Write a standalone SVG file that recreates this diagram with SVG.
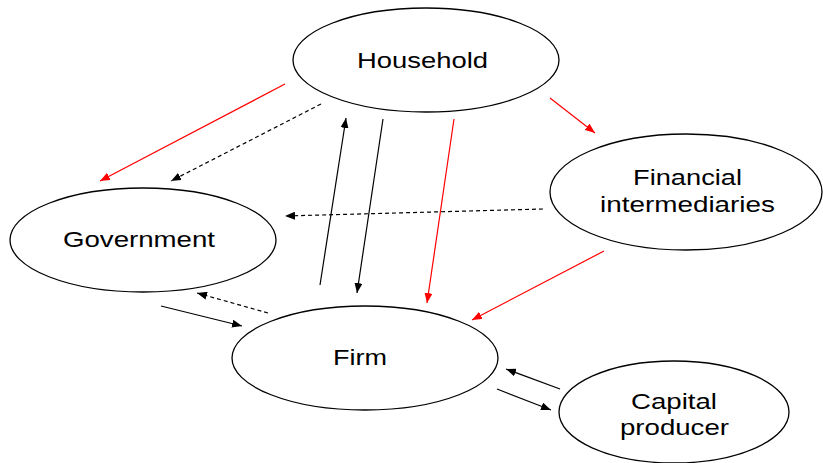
<svg xmlns="http://www.w3.org/2000/svg" width="823" height="463" viewBox="0 0 823 463">
<style>
.node ellipse{fill:#fff;stroke:#000;stroke-width:1.3}
.node text{font-family:"Liberation Sans",Arial,sans-serif;font-size:22px;fill:#000;text-anchor:middle}
.blk{stroke:#000;stroke-width:1.2;fill:none;marker-end:url(#ab)}
.red{stroke:#f00;stroke-width:1.2;fill:none;marker-end:url(#ar)}
.dash{stroke:#000;stroke-width:1.2;fill:none;stroke-dasharray:4 3;marker-end:url(#ab)}
</style>
<defs>
<marker id="ab" viewBox="0 0 10 8" refX="10" refY="4" markerWidth="10" markerHeight="8" markerUnits="userSpaceOnUse" orient="auto"><path d="M0,0L10,4L0,8z" fill="#000"/></marker>
<marker id="ar" viewBox="0 0 10 8" refX="10" refY="4" markerWidth="10" markerHeight="8" markerUnits="userSpaceOnUse" orient="auto"><path d="M0,0L10,4L0,8z" fill="#f00"/></marker>
</defs>
<rect width="823" height="463" fill="#fff"/>
<g id="household" class="node"><ellipse cx="426" cy="60" rx="133" ry="52"/><text x="422.5" y="68" textLength="131" lengthAdjust="spacingAndGlyphs">Household</text></g>
<g id="financial" class="node"><ellipse cx="686" cy="192" rx="136" ry="58"/><text x="687.5" y="185" textLength="109" lengthAdjust="spacingAndGlyphs">Financial</text><text x="687.5" y="212" textLength="175" lengthAdjust="spacingAndGlyphs">intermediaries</text></g>
<g id="government" class="node"><ellipse cx="143" cy="240" rx="133" ry="52"/><text x="139" y="247" textLength="152" lengthAdjust="spacingAndGlyphs">Government</text></g>
<g id="firm" class="node"><ellipse cx="365" cy="358" rx="133" ry="52"/><text x="360" y="365" textLength="54" lengthAdjust="spacingAndGlyphs">Firm</text></g>
<g id="capital" class="node"><ellipse cx="674" cy="412" rx="115" ry="51"/><text x="674" y="409" textLength="86" lengthAdjust="spacingAndGlyphs">Capital</text><text x="674.5" y="435" textLength="109" lengthAdjust="spacingAndGlyphs">producer</text></g>
<g id="connectors">
<line class="red" x1="285" y1="84" x2="100" y2="181"/>
<line class="dash" x1="321" y1="104" x2="171" y2="181"/>
<line class="blk" x1="320" y1="285" x2="346" y2="118"/>
<line class="blk" x1="383" y1="119" x2="357" y2="293"/>
<line class="red" x1="454" y1="119" x2="427" y2="303"/>
<line class="red" x1="550" y1="98" x2="595" y2="133"/>
<line class="dash" x1="543" y1="209" x2="285" y2="216"/>
<line class="red" x1="604" y1="251" x2="472" y2="320"/>
<line class="dash" x1="268" y1="313" x2="197" y2="293"/>
<line class="blk" x1="161" y1="306" x2="242" y2="326"/>
<line class="blk" x1="560" y1="389" x2="506" y2="369"/>
<line class="blk" x1="497" y1="389" x2="551" y2="410"/>
</g>
</svg>
